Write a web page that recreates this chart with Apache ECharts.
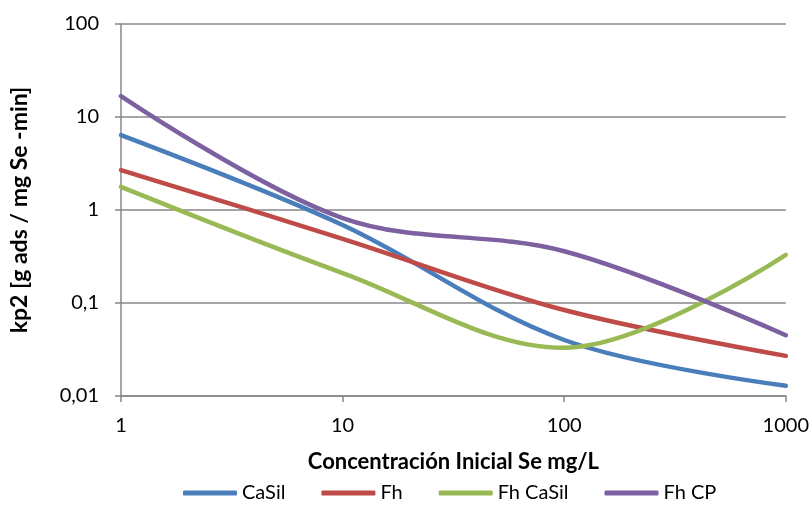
<!DOCTYPE html>
<html>
<head>
<meta charset="utf-8">
<script src="https://cdn.jsdelivr.net/npm/echarts@6/dist/echarts.min.js"></script>
<style>
  html, body { margin: 0; padding: 0; background: #ffffff; }
  #chart { width: 812px; height: 507px; }
</style>
</head>
<body>
<div id="chart"></div>
<script>
// Initial Se concentration (mg/L)
const concentrations = [1, 10, 100, 1000];

// kp2 [g ads / mg Se-min] for each sorbent
const casil = [6.4, 0.69, 0.040, 0.0129];
const fh = [2.69, 0.49, 0.084, 0.027];
const fhCasil = [1.77, 0.21, 0.033, 0.33];
const fhCp = [16.8, 0.82, 0.36, 0.045];

const seriesNames = ['CaSil', 'Fh', 'Fh CaSil', 'Fh CP'];
const seriesValues = [casil, fh, fhCasil, fhCp];
const seriesColors = ['#4a7ebb', '#be4b48', '#98b954', '#7d60a0'];

const FONT = 'Lato, "Liberation Sans", sans-serif';
const AXIS_GREY = '#878787';

function decimalComma(v) {
  return String(Number(v.toPrecision(6))).replace('.', ',');
}

const chart = echarts.init(document.getElementById('chart'), null, { renderer: 'canvas' });

chart.setOption({
  animation: false,
  backgroundColor: '#ffffff',
  textStyle: { fontFamily: FONT, color: '#000000' },
  grid: { left: 119, right: 25, top: 24, bottom: 111, containLabel: false },
  legend: {
    bottom: -1,
    left: 178,
    icon: 'roundRect',
    itemWidth: 54,
    itemHeight: 5,
    itemGap: 36,
    textStyle: { fontFamily: FONT, fontSize: 20, color: '#000000' },
    data: seriesNames
  },
  xAxis: {
    type: 'log',
    logBase: 10,
    min: 1,
    max: 1000,
    name: 'Concentración Inicial Se mg/L',
    nameLocation: 'middle',
    nameGap: 55,
    nameTextStyle: { fontFamily: FONT, fontSize: 22, fontWeight: 'bold', color: '#000000' },
    axisLine: { lineStyle: { color: AXIS_GREY, width: 1.5 } },
    axisTick: { show: true, inside: false, length: 6, lineStyle: { color: AXIS_GREY, width: 1.5 } },
    minorTick: { show: false },
    splitLine: { show: false },
    axisLabel: {
      fontFamily: FONT, fontSize: 20, color: '#000000', margin: 20,
      formatter: v => String(Math.round(v))
    }
  },
  yAxis: {
    type: 'log',
    logBase: 10,
    min: 0.01,
    max: 100,
    name: 'kp2 [g ads / mg Se -min]',
    nameLocation: 'middle',
    nameGap: 90,
    nameRotate: 90,
    nameTextStyle: { fontFamily: FONT, fontSize: 23, fontWeight: 'bold', color: '#000000' },
    axisLine: { show: true, lineStyle: { color: AXIS_GREY, width: 1.5 } },
    axisTick: { show: true, inside: false, length: 6, lineStyle: { color: AXIS_GREY, width: 1.5 } },
    splitLine: { show: true, lineStyle: { color: AXIS_GREY, width: 1.5 } },
    axisLabel: {
      fontFamily: FONT, fontSize: 20, color: '#000000', margin: 22,
      formatter: v => decimalComma(v)
    }
  },
  series: seriesNames.map((name, i) => ({
    name: name,
    type: 'line',
    data: concentrations.map((c, j) => [c, seriesValues[i][j]]),
    smooth: 0.35,
    showSymbol: false,
    symbol: 'none',
    color: seriesColors[i],
    lineStyle: { width: 4.5, color: seriesColors[i], cap: 'round', join: 'round' },
    z: 2 + i
  }))
});
</script>
</body>
</html>
